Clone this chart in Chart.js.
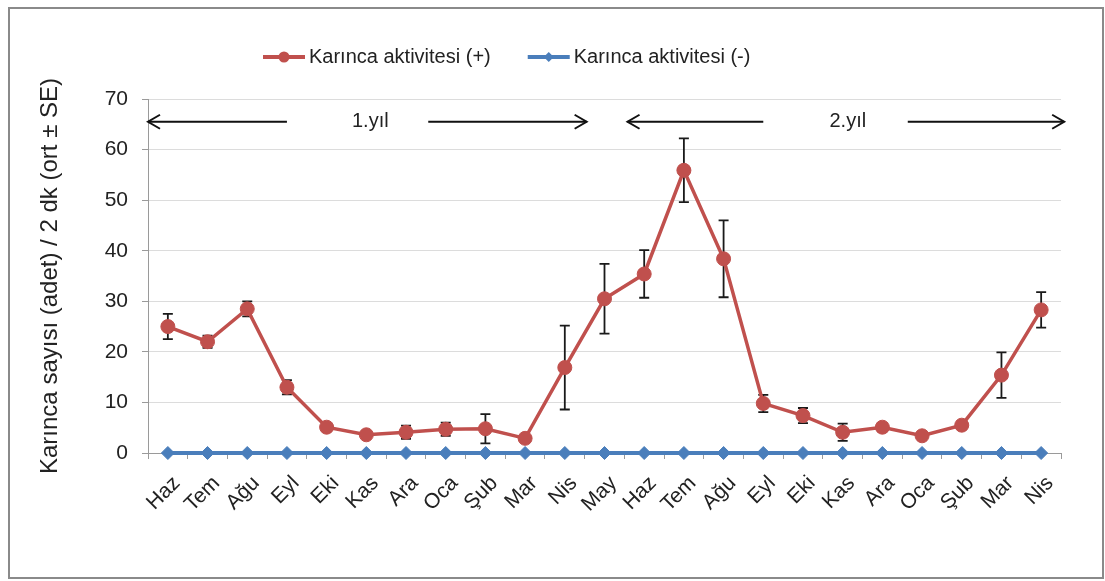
<!DOCTYPE html>
<html>
<head>
<meta charset="utf-8">
<script src="https://cdn.jsdelivr.net/npm/chart.js@4/dist/chart.umd.min.js"></script>
<style>
  html, body { margin: 0; padding: 0; background: #fff; }
  #wrap { position: relative; width: 1105px; height: 581px; }
</style>
</head>
<body>
<div id="wrap"><canvas id="c" width="1105" height="581"></canvas></div>
<script>
// Monthly ant counts over two years (mean ± SE per 2 minutes)
const months = ['Haz','Tem','Ağu','Eyl','Eki','Kas','Ara','Oca','Şub','Mar','Nis','May',
                'Haz','Tem','Ağu','Eyl','Eki','Kas','Ara','Oca','Şub','Mar','Nis'];
const activityPlus   = [25.0, 22.0, 28.5, 13.0, 5.1, 3.6, 4.1, 4.7, 4.8, 2.9, 16.9, 30.5,
                        35.4, 55.9, 38.4, 9.8, 7.4, 4.1, 5.1, 3.4, 5.5, 15.4, 28.3];
const activityPlusSE = [2.5, 1.2, 1.5, 1.4, 0.7, 0.5, 1.3, 1.3, 2.9, 0.5, 8.3, 6.9,
                        4.7, 6.3, 7.6, 1.7, 1.5, 1.7, 0.8, 0.3, 0.7, 4.5, 3.5];
const activityMinus  = [0, 0, 0, 0, 0, 0, 0, 0, 0, 0, 0, 0,
                        0, 0, 0, 0, 0, 0, 0, 0, 0, 0, 0];
const seriesNames = ['Karınca aktivitesi (+)', 'Karınca aktivitesi (-)'];
const yAxisTitle = 'Karınca sayısı (adet) / 2 dk (ort ± SE)';
const yearLabels = ['1.yıl', '2.yıl'];
// Year spans along the category axis: [left arrow tip, left arrow end, label, right arrow start, right arrow tip]
const yearSpans = [[-0.5, 3.0, 5.1, 6.56, 10.55], [11.58, 15.0, 17.13, 18.64, 22.58]];
const yearArrowLevel = 65.5;

const RED = '#c0504d';
const BLUE = '#4a7ebb';
const FONT = "'Liberation Sans', Arial, sans-serif";

const errorBars = {
  id: 'errorBars',
  beforeDatasetsDraw(chart) {
    const { ctx, scales: { y } } = chart;
    const meta = chart.getDatasetMeta(0);
    ctx.save();
    ctx.strokeStyle = '#1a1a1a';
    ctx.lineWidth = 1.8;
    meta.data.forEach((pt, i) => {
      const v = activityPlus[i], se = activityPlusSE[i];
      const yt = y.getPixelForValue(v + se), yb = y.getPixelForValue(v - se);
      const x = pt.x, cap = 5;
      ctx.beginPath();
      ctx.moveTo(x, yt); ctx.lineTo(x, yb);
      ctx.moveTo(x - cap, yt); ctx.lineTo(x + cap, yt);
      ctx.moveTo(x - cap, yb); ctx.lineTo(x + cap, yb);
      ctx.stroke();
    });
    ctx.restore();
  }
};

const yearArrows = {
  id: 'yearArrows',
  afterDatasetsDraw(chart) {
    const { ctx, scales: { x, y } } = chart;
    const yy = y.getPixelForValue(yearArrowLevel);
    ctx.save();
    ctx.strokeStyle = '#111';
    ctx.lineWidth = 2;
    ctx.fillStyle = '#222';
    ctx.font = '20px ' + FONT;
    ctx.textAlign = 'center';
    ctx.textBaseline = 'middle';
    const head = (tx, dir) => {
      ctx.beginPath();
      ctx.moveTo(tx + dir * 12, yy - 7);
      ctx.lineTo(tx, yy);
      ctx.lineTo(tx + dir * 12, yy + 7);
      ctx.stroke();
    };
    yearSpans.forEach((s, k) => {
      const a = x.getPixelForValue(s[0]), b = x.getPixelForValue(s[1]);
      const c = x.getPixelForValue(s[2]);
      const d = x.getPixelForValue(s[3]), e = x.getPixelForValue(s[4]);
      ctx.beginPath();
      ctx.moveTo(a, yy); ctx.lineTo(b, yy);
      ctx.moveTo(d, yy); ctx.lineTo(e, yy);
      ctx.stroke();
      head(a, 1);
      head(e, -1);
      ctx.fillText(yearLabels[k], c, yy);
    });
    ctx.restore();
  }
};

const lineLegend = {
  id: 'lineLegend',
  afterDraw(chart) {
    const { ctx } = chart;
    ctx.save();
    ctx.font = '20px ' + FONT;
    ctx.textBaseline = 'middle';
    ctx.textAlign = 'left';
    let xPos = 263;
    const yPos = 57;
    chart.data.datasets.forEach((ds, i) => {
      ctx.strokeStyle = ds.borderColor;
      ctx.lineWidth = 4;
      ctx.beginPath();
      ctx.moveTo(xPos, yPos); ctx.lineTo(xPos + 42, yPos);
      ctx.stroke();
      ctx.fillStyle = ds.borderColor;
      const cx = xPos + 21;
      ctx.beginPath();
      if (ds.pointStyle === 'rectRot') {
        ctx.moveTo(cx, yPos - 5); ctx.lineTo(cx + 5, yPos);
        ctx.lineTo(cx, yPos + 5); ctx.lineTo(cx - 5, yPos);
        ctx.closePath();
      } else {
        ctx.arc(cx, yPos, 5.5, 0, Math.PI * 2);
      }
      ctx.fill();
      ctx.fillStyle = '#222';
      ctx.fillText(ds.label, xPos + 46, yPos);
      xPos += 46 + ctx.measureText(ds.label).width + 37;
    });
    ctx.restore();
  }
};

const frame = {
  id: 'frame',
  afterDraw(chart) {
    const { ctx } = chart;
    ctx.save();
    ctx.strokeStyle = '#8a8a8a';
    ctx.lineWidth = 2;
    ctx.strokeRect(9, 8, 1094, 570);
    ctx.restore();
  }
};

new Chart(document.getElementById('c'), {
  type: 'line',
  data: {
    labels: months,
    datasets: [
      {
        label: seriesNames[0],
        data: activityPlus,
        borderColor: RED,
        backgroundColor: RED,
        borderWidth: 3.5,
        pointStyle: 'circle',
        pointRadius: 7,
        pointBorderWidth: 1,
        pointBackgroundColor: RED,
        pointBorderColor: RED,
        tension: 0
      },
      {
        label: seriesNames[1],
        data: activityMinus,
        borderColor: BLUE,
        backgroundColor: BLUE,
        borderWidth: 4,
        pointStyle: 'rectRot',
        pointRadius: 6.5,
        pointBorderWidth: 1,
        pointBackgroundColor: BLUE,
        pointBorderColor: BLUE,
        tension: 0,
        clip: false
      }
    ]
  },
  options: {
    responsive: false,
    animation: false,
    devicePixelRatio: 1,
    layout: { padding: { top: 99, right: 44, bottom: 0, left: 0 } },
    plugins: {
      legend: { display: false },
      tooltip: { enabled: false }
    },
    scales: {
      x: {
        offset: true,
        grid: { display: true, drawOnChartArea: false, drawTicks: true, tickLength: 6, offset: true, tickColor: '#9a9a9a' },
        border: { color: '#9a9a9a', width: 1 },
        ticks: {
          autoSkip: false,
          minRotation: 45,
          maxRotation: 45,
          padding: 12,
          labelOffset: 9,
          color: '#222',
          font: { family: FONT, size: 21 }
        },
        afterFit(scale) { scale.height = 128; }
      },
      y: {
        min: 0,
        max: 70,
        ticks: {
          stepSize: 10,
          padding: 14,
          color: '#222',
          font: { family: FONT, size: 21 }
        },
        grid: { color: '#dcdcdc', lineWidth: 1, tickLength: 6, tickColor: '#9a9a9a' },
        border: { color: '#9a9a9a', width: 1 },
        title: {
          display: true,
          text: yAxisTitle,
          color: '#222',
          font: { family: FONT, size: 24 },
          padding: { top: 36, bottom: 0 }
        },
        afterFit(scale) { scale.width = 148; }
      }
    }
  },
  plugins: [errorBars, yearArrows, lineLegend, frame]
});
</script>
</body>
</html>
